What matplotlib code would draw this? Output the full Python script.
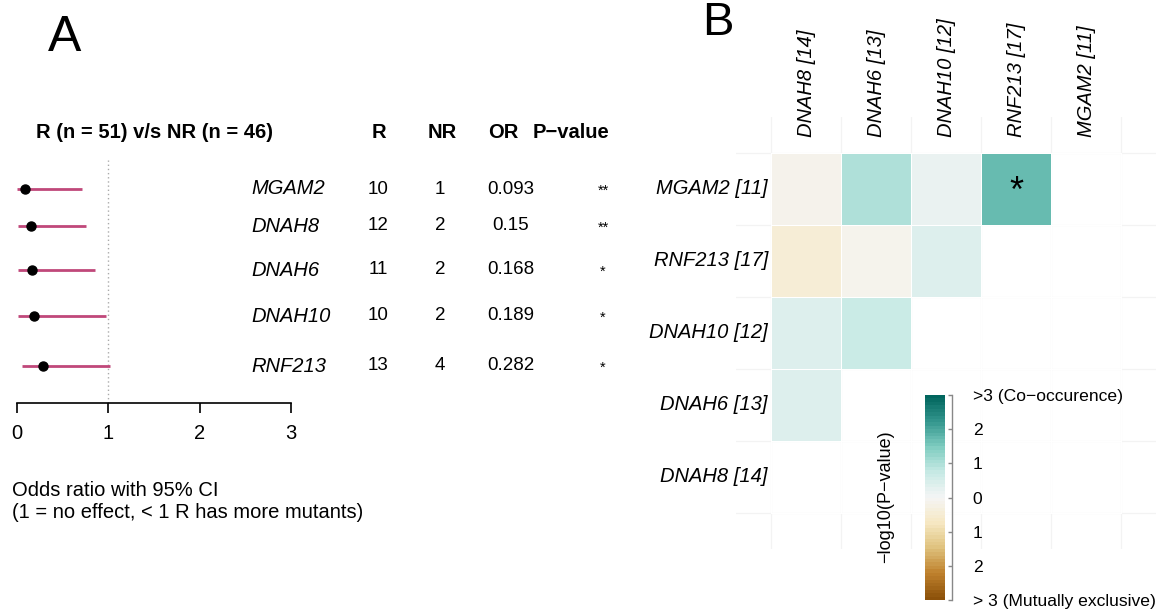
import numpy as np
import matplotlib
matplotlib.use("Agg")
import matplotlib.pyplot as plt
from matplotlib.colors import LinearSegmentedColormap, BoundaryNorm, ListedColormap

plt.rcParams['font.family'] = ['Liberation Sans', 'DejaVu Sans']

# ---------------- data: panel A (forest plot) ----------------
genes = ["MGAM2", "DNAH8", "DNAH6", "DNAH10", "RNF213"]
n_R = [10, 12, 11, 10, 13]
n_NR = [1, 2, 2, 2, 4]
odds = [0.093, 0.15, 0.168, 0.189, 0.282]
ci_low = [0.0, 0.015, 0.015, 0.016, 0.06]
ci_high = [0.71, 0.75, 0.85, 0.97, 1.02]
pstars = ["**", "**", "*", "*", "*"]
xticks_A = [0, 1, 2, 3]

# ---------------- data: panel B (co-occurrence heatmap) ----------------
col_genes = ["DNAH8 [14]", "DNAH6 [13]", "DNAH10 [12]", "RNF213 [17]", "MGAM2 [11]"]
row_genes = ["MGAM2 [11]", "RNF213 [17]", "DNAH10 [12]", "DNAH6 [13]", "DNAH8 [14]"]
# -log10(p) signed: + co-occurrence, - mutually exclusive; nan = not shown
heat_vals = [
    [-0.15, 1.0, 0.18, 1.75, np.nan],
    [-0.45, -0.12, 0.38, np.nan, np.nan],
    [0.38, 0.7, np.nan, np.nan, np.nan],
    [0.38, np.nan, np.nan, np.nan, np.nan],
    [np.nan, np.nan, np.nan, np.nan, np.nan],
]
signif = [(0, 3)]
cb_ticks = [-3, -2, -1, 0, 1, 2, 3]
cb_labels = ["> 3 (Mutually exclusive)", "2", "1", "0", "1", "2", ">3 (Co\u2212occurence)"]

# ---------------- figure ----------------
W, H = 1164, 615
fig = plt.figure(figsize=(W / 100, H / 100), dpi=100)

def px_axes(x0, y0, x1, y1):
    return fig.add_axes([x0 / W, 1 - y1 / H, (x1 - x0) / W, (y1 - y0) / H])

# overlay for free text in pixel coordinates
ov = fig.add_axes([0, 0, 1, 1])
ov.set_xlim(0, W)
ov.set_ylim(H, 0)
ov.axis("off")
ov.set_zorder(5)

# row layout (pixel y of each forest-plot row)
row_y = [189, 226, 270, 316, 366]

# forest axes
axA = px_axes(17, 160, 291, 403)
axA.set_xlim(0, 3)
axA.set_ylim(403, 160)
for s in ["top", "right", "left"]:
    axA.spines[s].set_visible(False)
axA.spines["bottom"].set_linewidth(1.2)
axA.set_yticks([])
axA.set_xticks(xticks_A)
axA.set_xticklabels([str(t) for t in xticks_A], fontsize=14.5)
axA.tick_params(axis="x", length=7, width=1.2, pad=8)
axA.axvline(1, color="#aaaaaa", linestyle=(0, (1, 2)), linewidth=1.0, ymin=0, ymax=1)
axA.hlines(row_y, ci_low, ci_high, color="#c0487a", linewidth=2)
axA.plot(odds, row_y, "o", color="black", markersize=6.5, zorder=3, clip_on=False)
axA.patch.set_alpha(0)

fs = 14.5
ov.text(65, 38, "A", fontsize=36, ha="center", va="center")
ov.text(718, 23, "B", fontsize=34, ha="center", va="center")
ov.text(36, 132, "R (n = 51) v/s NR (n = 46)", fontsize=fs, fontweight="bold", ha="left", va="center")
ov.text(379, 132, "R", fontsize=fs, fontweight="bold", ha="center", va="center")
ov.text(442, 132, "NR", fontsize=fs, fontweight="bold", ha="center", va="center")
ov.text(488, 132, "OR", fontsize=fs, fontweight="bold", ha="left", va="center")
ov.text(533, 132, "P\u2212value", fontsize=fs, fontweight="bold", ha="left", va="center")
for i, g in enumerate(genes):
    y = row_y[i]
    ov.text(251, y, g, fontsize=fs, fontstyle="italic", ha="left", va="center")
    ov.text(378, y, str(n_R[i]), fontsize=13.5, ha="center", va="center")
    ov.text(440, y, str(n_NR[i]), fontsize=13.5, ha="center", va="center")
    ov.text(511, y, f"{odds[i]:g}", fontsize=13.5, ha="center", va="center")
    ov.text(603, y + 2, pstars[i], fontsize=10.5, ha="center", va="center")
ov.text(12, 490, "Odds ratio with 95% CI", fontsize=fs, ha="left", va="center")
ov.text(12, 512, "(1 = no effect, < 1 R has more mutants)", fontsize=fs, ha="left", va="center")

# ---------------- panel B ----------------
cmap_full = LinearSegmentedColormap.from_list(
    "brbg9", ["#8c510a", "#bf812d", "#dfc27d", "#f6e8c3", "#f5f5f5",
              "#c7eae5", "#80cdc1", "#35978f", "#01665e"])
nb = 60
bounds = np.linspace(-3, 3, nb + 1)
cmap = ListedColormap([cmap_full(v) for v in np.linspace(0, 1, nb)])
norm = BoundaryNorm(bounds, cmap.N)

axB = px_axes(736, 117, 1156, 549)
axB.set_xlim(-1, 5)
axB.set_ylim(5, -1)
axB.axis("off")
for k in np.arange(-0.5, 5.0, 1.0):
    axB.plot([k, k], [-1, 5], color="#f3f3f3", linewidth=0.9, zorder=0)
    axB.plot([-1, 5], [k, k], color="#f3f3f3", linewidth=0.9, zorder=0)
data = np.ma.masked_invalid(np.array(heat_vals, dtype=float))
nr, nc = data.shape
axB.pcolormesh(np.arange(nc + 1) - 0.5, np.arange(nr + 1) - 0.5, data,
               cmap=cmap_full, vmin=-3, vmax=3, edgecolors="#ffffff", linewidth=0.6, zorder=1)
for (r, c) in signif:
    axB.text(c, r + 0.05, "*", fontsize=26, ha="center", va="center", zorder=3)
for j, lab in enumerate(col_genes):
    ov.text(771 + 70 * j + 35, 137, lab, fontsize=fs, fontstyle="italic", rotation=90,
            ha="center", va="bottom")
for i, lab in enumerate(row_genes):
    ov.text(768, 153 + 72 * i + 36, lab, fontsize=fs, fontstyle="italic", ha="right", va="center")

# colorbar
cax = px_axes(925, 395, 945, 600)
sm = matplotlib.cm.ScalarMappable(norm=norm, cmap=cmap)
cb = fig.colorbar(sm, cax=cax, ticks=cb_ticks, drawedges=False)
cb.outline.set_visible(False)
cax.minorticks_off()
cb.set_ticks(cb_ticks)
cb.set_ticklabels(cb_labels)
cax.spines["right"].set_visible(True)
cax.spines["right"].set_position(("outward", 5))
cax.spines["right"].set_color("#888888")
cax.spines["right"].set_linewidth(1)
cax.tick_params(axis="y", which="major", direction="in", length=3, width=1, color="#888888",
                pad=15, labelsize=12.6)
cax.tick_params(axis="y", which="minor", length=0)
ov.text(886, 497, "\u2212log10(P\u2212value)", fontsize=13, rotation=90, ha="center", va="center")

fig.savefig("out.png", dpi=100)
